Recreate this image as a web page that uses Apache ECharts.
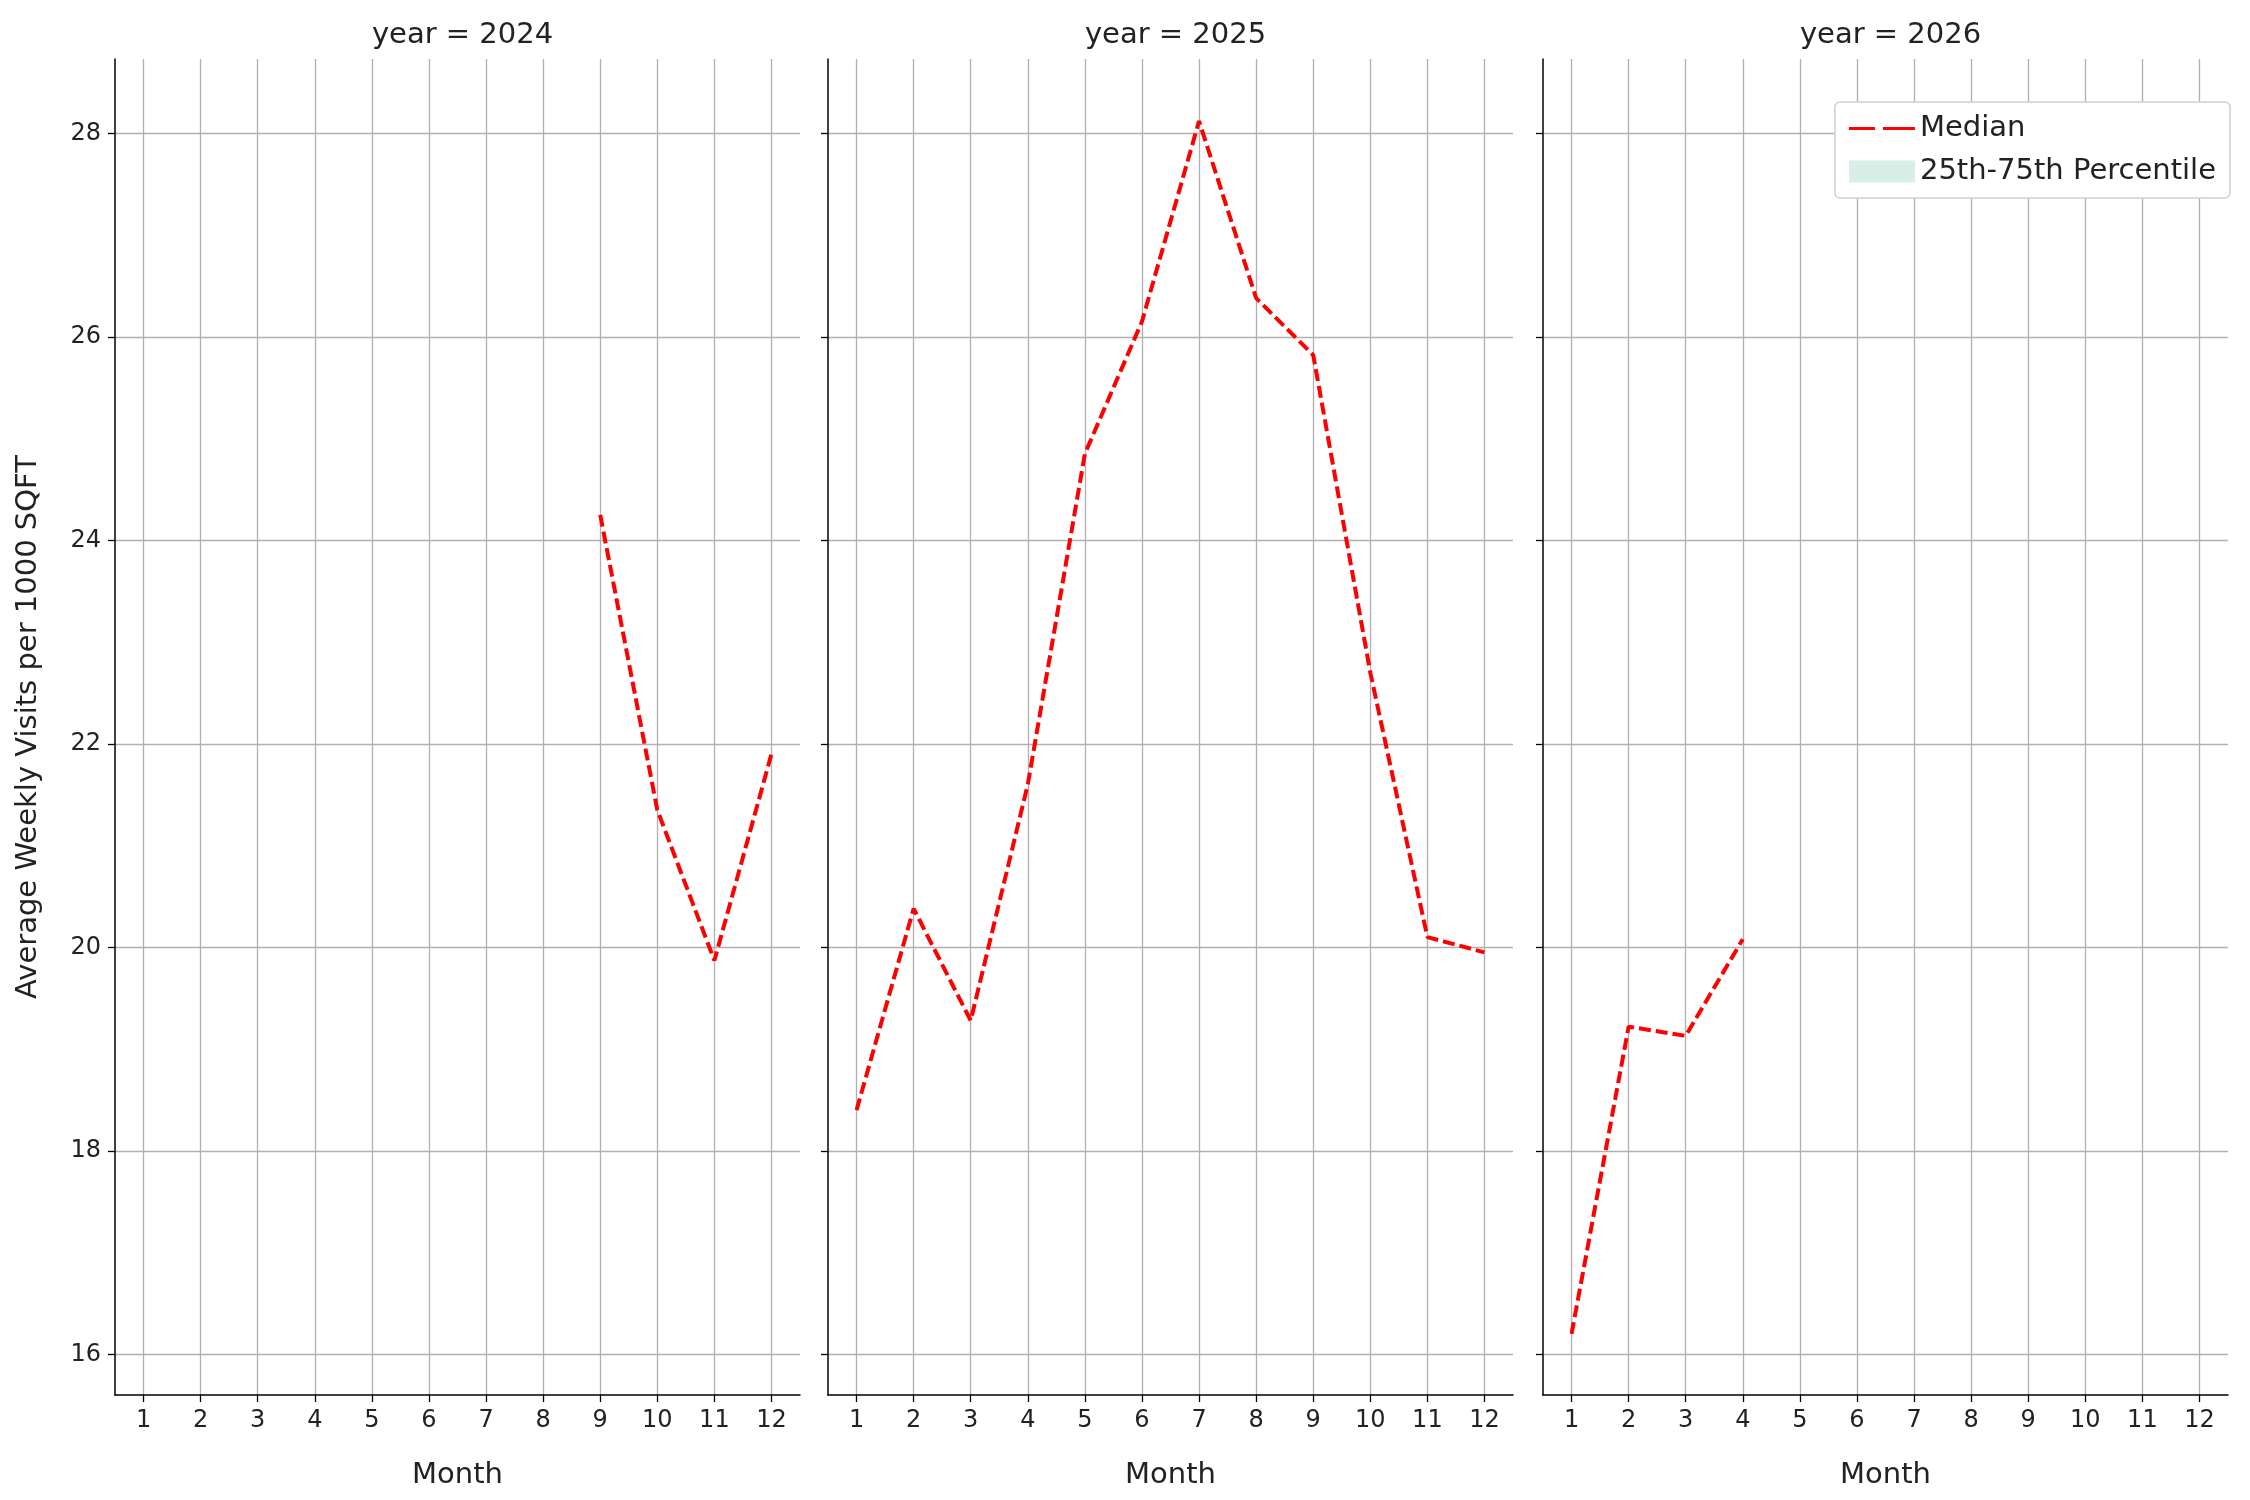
<!DOCTYPE html>
<html><head><meta charset="utf-8">
<script src="https://cdn.jsdelivr.net/npm/echarts@6/dist/echarts.min.js"></script>
<style>html,body{margin:0;background:#fff}#c{width:2250px;height:1500px}</style>
</head><body><div id="c"></div>
<script>
const years = ['2024','2025','2026'];
const months = [1,2,3,4,5,6,7,8,9,10,11,12];
const yTicks = [16,18,20,22,24,26,28];
const median2024 = [[9,24.25],[10,21.35],[11,19.87],[12,21.9]];
const median2025 = [[1,18.4],[2,20.38],[3,19.28],[4,21.6],[5,24.85],[6,26.15],[7,28.12],[8,26.38],[9,25.82],[10,22.7],[11,20.1],[12,19.95]];
const median2026 = [[1,16.2],[2,19.22],[3,19.13],[4,20.08]];
const medians = [median2024, median2025, median2026];

const lefts = [115, 828, 1543], W = 685, gTop = 59, H = 1336;
const font = 'DejaVu Sans';
const grid = [], xAxis = [], yAxis = [], series = [], titles = [];
for (let i = 0; i < 3; i++) {
  grid.push({left: lefts[i], top: gTop, width: W, height: H, containLabel: false});
  xAxis.push({type: 'value', gridIndex: i, min: 0.5, max: 12.5,
    name: 'Month', nameLocation: 'middle', nameGap: 66,
    nameTextStyle: {fontFamily: font, fontSize: 29, color: '#222'},
    axisLine: {show: true, lineStyle: {color: '#000', width: 1.5}},
    axisTick: {show: true, length: 7, customValues: months, lineStyle: {color: '#000', width: 1.3}},
    axisLabel: {customValues: months, fontFamily: font, fontSize: 24, color: '#222', margin: 14},
    splitLine: {show: true, lineStyle: {color: '#b0b0b0', width: 1.3}}});
  yAxis.push({type: 'value', gridIndex: i, min: 15.6, max: 28.73,
    name: i === 0 ? 'Average Weekly Visits per 1000 SQFT' : '', nameLocation: 'middle', nameGap: 72,
    nameTextStyle: {fontFamily: font, fontSize: 29, color: '#222'},
    axisLine: {show: true, lineStyle: {color: '#000', width: 1.5}},
    axisTick: {show: true, length: 7, customValues: yTicks, lineStyle: {color: '#000', width: 1.3}},
    axisLabel: {show: i === 0, customValues: yTicks, fontFamily: font, fontSize: 24, color: '#222', margin: 14},
    splitLine: {show: true, lineStyle: {color: '#b0b0b0', width: 1.3}}});
  series.push({name: 'Median', type: 'line', xAxisIndex: i, yAxisIndex: i, data: medians[i],
    symbol: 'none', lineStyle: {color: '#ff0000', width: 4, type: [12, 5]}, itemStyle: {color: '#ff0000'}});
  titles.push({text: 'year = ' + years[i], left: lefts[i] + W / 2, top: 16, textAlign: 'center',
    textStyle: {fontFamily: font, fontSize: 29, fontWeight: 'normal', color: '#222'}});
}
series.push({name: '25th-75th Percentile', type: 'line', xAxisIndex: 2, yAxisIndex: 2, data: [],
  itemStyle: {color: '#d8efe8'}, lineStyle: {width: 0}});
const chart = echarts.init(document.getElementById('c'));
chart.setOption({
  animation: false, title: titles, grid, xAxis, yAxis, series,
  legend: {orient: 'vertical', right: 20, top: 102, padding: [12, 14, 12, 14], itemGap: 14,
    backgroundColor: '#fff', borderColor: '#d0d0d0', borderWidth: 1.5, borderRadius: 5,
    textStyle: {fontFamily: font, fontSize: 29, color: '#222'},
    itemWidth: 66, itemHeight: 22,
    data: [{name: 'Median', icon: 'path://M0,10 L26,10 L26,13 L0,13 Z M34,10 L66,10 L66,13 L34,13 Z'},
           {name: '25th-75th Percentile', icon: 'rect', itemStyle: {color: '#d8efe8'}}]}
});
</script></body></html>
